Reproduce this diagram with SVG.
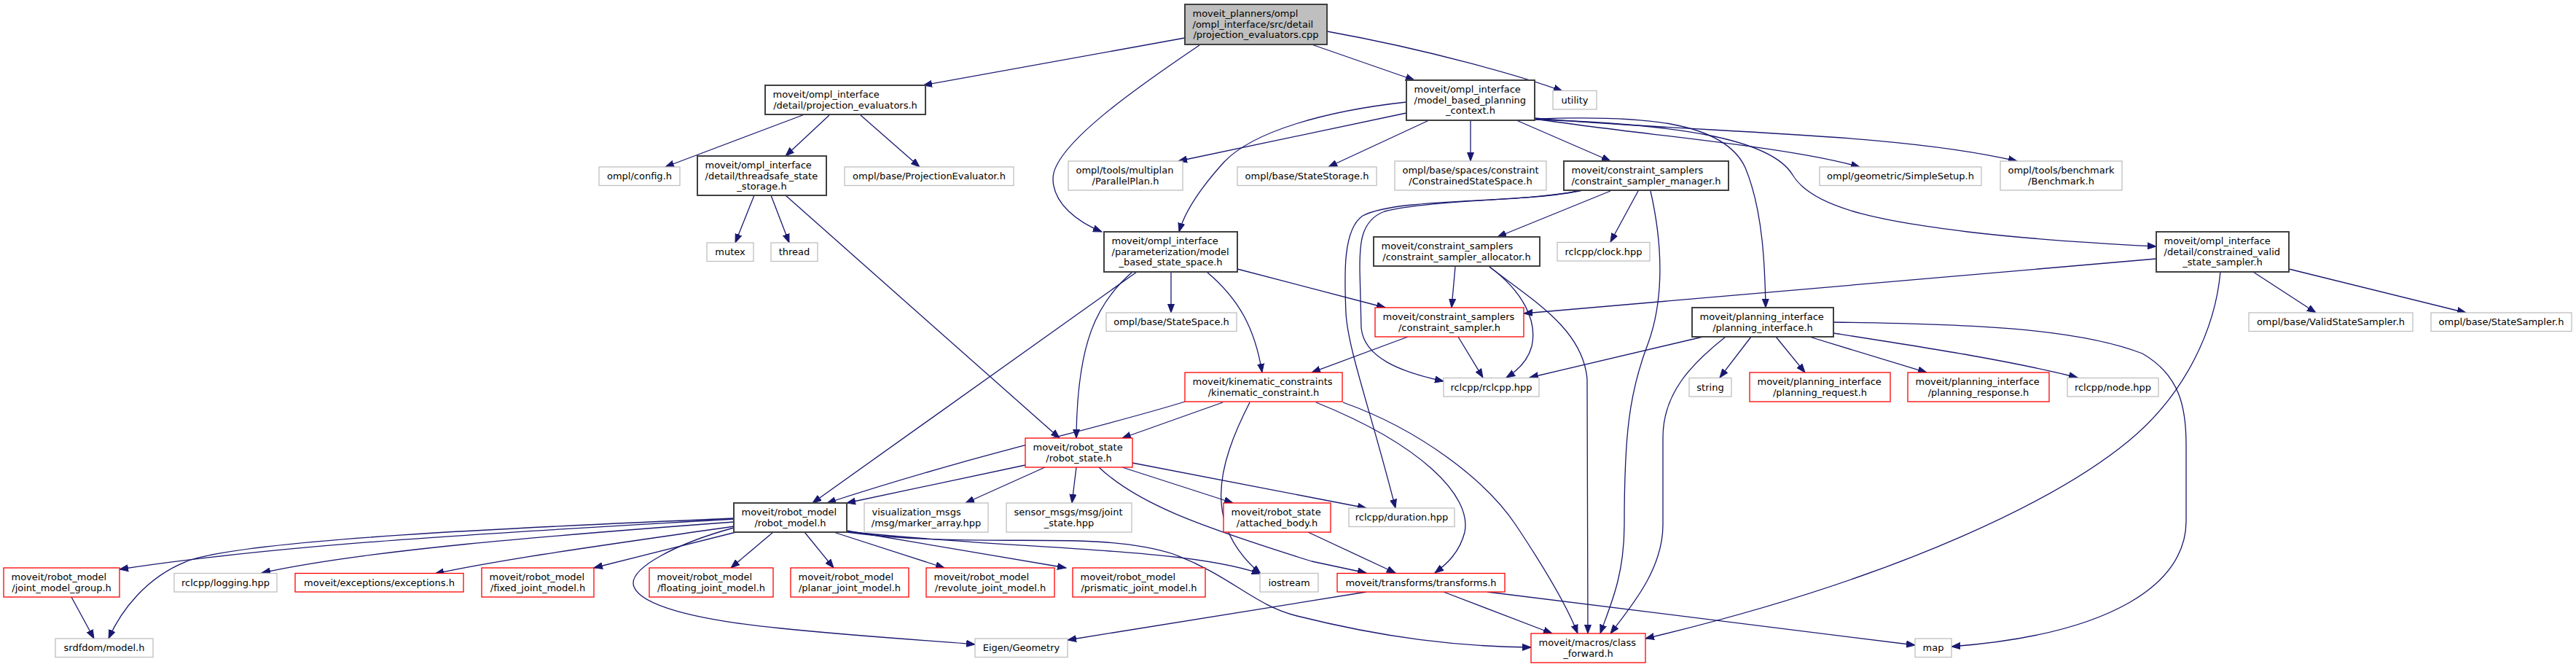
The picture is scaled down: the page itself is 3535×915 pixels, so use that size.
<svg xmlns="http://www.w3.org/2000/svg" width="3535" height="915" viewBox="0 0 3535 915">
<style>
rect{fill:#fff;stroke-width:1.3}
.n rect{stroke:#404040;stroke-width:2}
.root rect{fill:#bfbfbf;stroke:#404040;stroke-width:2}
.e rect{stroke:#bfbfbf}
.r rect{stroke:#ff0000}
text{font-family:"DejaVu Sans",sans-serif;font-size:13px;fill:#000}
.c{text-anchor:middle}
#edges path{fill:none;stroke:#191970;stroke-width:1.3;marker-end:url(#arr)}
</style>
<defs>
<marker id="arr" markerUnits="userSpaceOnUse" markerWidth="13" markerHeight="10" refX="12" refY="5" orient="auto">
<path d="M0,0.5 L12,5 L0,9.5 z" fill="#191970" stroke="#191970" stroke-width="1"/>
</marker>
</defs>
<rect x="0" y="0" width="3535" height="915" style="fill:#fff;stroke:none"/>
<g id="edges">
<path d="M1626,52 L1267,117"/>
<path d="M1646,62 C1560,120 1445,200 1445,245 C1445,280 1480,305 1512,318"/>
<path d="M1800,61 L1941,110"/>
<path d="M1821,43 C1960,68 2090,105 2144,125"/>
<path d="M1104,157 L913,229"/>
<path d="M1138,158 L1078,214"/>
<path d="M1181,158 L1262,229"/>
<path d="M1035,268 L1009,333"/>
<path d="M1058,268 L1083,333"/>
<path d="M1078,268 L1454,601"/>
<path d="M1930,155 L1617,221"/>
<path d="M1930,140 C1820,152 1720,180 1680,222 C1650,255 1626,290 1618,318"/>
<path d="M1961,165 L1823,229"/>
<path d="M2018,165 L2018,221"/>
<path d="M2081,165 L2210,221"/>
<path d="M2106,163 C2250,185 2450,200 2552,229"/>
<path d="M2106,162 C2350,183 2600,182 2768,221"/>
<path d="M2106,163 C2250,158 2365,165 2395,230 C2420,290 2422,370 2423,422"/>
<path d="M2106,164 C2300,170 2430,190 2460,240 C2490,290 2600,305 2700,318 C2800,330 2900,335 2959,338"/>
<path d="M2210,262 L2055,325"/>
<path d="M2248,262 L2210,332"/>
<path d="M2265,262 C2285,350 2280,420 2262,470 C2235,540 2229,600 2229,720 C2229,790 2210,830 2196,869"/>
<path d="M2172,261 C2100,276 1960,274 1900,290 C1865,303 1866,340 1866,370 L1868,450 C1872,490 1920,510 1981,523"/>
<path d="M2170,261 C2090,280 1920,270 1870,296 C1842,315 1845,380 1847,430 C1850,480 1880,560 1915,697"/>
<path d="M1997,366 L1992,422"/>
<path d="M2044,366 C2090,400 2110,440 2102,475 C2096,497 2080,510 2067,518"/>
<path d="M2044,366 C2100,410 2172,450 2178,520 L2179,869"/>
<path d="M1607,373 L1607,429"/>
<path d="M1698,369 L1901,422"/>
<path d="M1560,373 L1115,690"/>
<path d="M1554,373 C1505,415 1478,470 1477,601"/>
<path d="M1656,373 C1700,410 1722,450 1732,511"/>
<path d="M3092,373 L3178,429"/>
<path d="M3141,369 L3384,429"/>
<path d="M2959,355 L2091,430"/>
<path d="M3047,373 C3040,450 3000,540 2921,605 C2830,680 2620,790 2258,876"/>
<path d="M1932,462 L1800,511"/>
<path d="M2001,462 L2035,518"/>
<path d="M2337,462 L2099,518"/>
<path d="M2403,462 L2360,518"/>
<path d="M2437,462 L2477,511"/>
<path d="M2483,462 L2644,511"/>
<path d="M2516,457 C2650,478 2760,495 2851,518"/>
<path d="M2368,462 C2320,500 2282,540 2282,600 L2282,720 C2282,780 2240,830 2210,869"/>
<path d="M2516,442 C2700,444 2850,450 2940,485 C2992,515 3000,560 3000,610 L3000,715 C3000,800 2900,870 2678,887"/>
<path d="M1626,551 C1500,590 1350,620 1135,690"/>
<path d="M1678,552 L1540,601"/>
<path d="M1715,552 C1670,640 1650,720 1730,787"/>
<path d="M1806,552 C1950,610 2020,680 2010,730 C2003,758 1985,774 1969,786"/>
<path d="M1843,552 C1950,590 2040,660 2080,720 C2120,780 2150,830 2165,869"/>
<path d="M1407,638 L1162,690"/>
<path d="M1434,641 L1325,690"/>
<path d="M1477,641 L1471,690"/>
<path d="M1540,641 L1692,690"/>
<path d="M1554,635 L1875,697"/>
<path d="M1508,641 C1560,690 1640,720 1800,770 L1875,786"/>
<path d="M1795,730 L1915,786"/>
<path d="M1875,812 L1465,878"/>
<path d="M1981,812 L2130,869"/>
<path d="M2041,812 L2628,885"/>
<path d="M1061,730 L1003,779"/>
<path d="M1104,730 L1144,779"/>
<path d="M1144,730 L1296,779"/>
<path d="M1162,728 L1463,779"/>
<path d="M1162,729 C1400,755 1620,750 1730,787"/>
<path d="M1162,730 C1350,755 1500,725 1610,760 C1690,790 1720,830 1780,845 C1900,875 2000,887 2101,888"/>
<path d="M1007,724 C930,745 860,780 870,805 C880,830 950,850 1072,862 C1200,875 1300,880 1338,884"/>
<path d="M1007,712 C700,730 400,745 164,781"/>
<path d="M1007,711 C700,724 350,740 262,768 C200,790 165,840 149,876"/>
<path d="M1007,716 C750,735 500,755 359,786"/>
<path d="M1007,722 C850,745 700,765 597,787"/>
<path d="M1010,730 L815,779"/>
<path d="M98,819 L129,876"/>
</g>
<g id="n_root" class="root"><rect x="1626" y="6" width="195" height="55"/><text x="1636.5" y="23">moveit_planners/ompl</text><text x="1636.5" y="37.5">/ompl_interface/src/detail</text><text class="c" x="1723.5" y="52">/projection_evaluators.cpp</text></g>
<g id="n_proj_h" class="n"><rect x="1050" y="117" width="220" height="40"/><text x="1060.5" y="134">moveit/ompl_interface</text><text class="c" x="1160" y="148.5">/detail/projection_evaluators.h</text></g>
<g id="n_context" class="n"><rect x="1930" y="110" width="176" height="55"/><text x="1940.5" y="127">moveit/ompl_interface</text><text x="1940.5" y="141.5">/model_based_planning</text><text class="c" x="2018" y="156">_context.h</text></g>
<g id="n_utility" class="e"><rect x="2131" y="124.5" width="60" height="25.5"/><text class="c" x="2161" y="141.5">utility</text></g>
<g id="n_config" class="e"><rect x="822" y="229" width="111" height="25.5"/><text class="c" x="877.5" y="246">ompl/config.h</text></g>
<g id="n_threadsafe" class="n"><rect x="957" y="214" width="177" height="54"/><text x="967.5" y="231">moveit/ompl_interface</text><text x="967.5" y="245.5">/detail/threadsafe_state</text><text class="c" x="1045.5" y="260">_storage.h</text></g>
<g id="n_projeval" class="e"><rect x="1159" y="229" width="232" height="25.5"/><text class="c" x="1275" y="246">ompl/base/ProjectionEvaluator.h</text></g>
<g id="n_mutex" class="e"><rect x="970" y="333" width="64" height="25.5"/><text class="c" x="1002" y="350">mutex</text></g>
<g id="n_thread" class="e"><rect x="1058" y="333" width="64" height="25.5"/><text class="c" x="1090" y="350">thread</text></g>
<g id="n_parallelplan" class="e"><rect x="1466" y="221" width="157" height="40"/><text x="1476.5" y="238">ompl/tools/multiplan</text><text class="c" x="1544.5" y="252.5">/ParallelPlan.h</text></g>
<g id="n_statestorage" class="e"><rect x="1698" y="229" width="191" height="25.5"/><text class="c" x="1793.5" y="246">ompl/base/StateStorage.h</text></g>
<g id="n_css" class="e"><rect x="1914" y="221" width="208" height="40"/><text x="1924.5" y="238">ompl/base/spaces/constraint</text><text class="c" x="2018" y="252.5">/ConstrainedStateSpace.h</text></g>
<g id="n_manager" class="n"><rect x="2146" y="221" width="226" height="40"/><text x="2156.5" y="238">moveit/constraint_samplers</text><text class="c" x="2259" y="252.5">/constraint_sampler_manager.h</text></g>
<g id="n_simplesetup" class="e"><rect x="2497" y="229" width="222" height="25.5"/><text class="c" x="2608" y="246">ompl/geometric/SimpleSetup.h</text></g>
<g id="n_benchmark" class="e"><rect x="2745" y="221" width="167" height="40"/><text x="2755.5" y="238">ompl/tools/benchmark</text><text class="c" x="2828.5" y="252.5">/Benchmark.h</text></g>
<g id="n_mbss" class="n"><rect x="1515" y="318" width="183" height="55"/><text x="1525.5" y="335">moveit/ompl_interface</text><text x="1525.5" y="349.5">/parameterization/model</text><text class="c" x="1606.5" y="364">_based_state_space.h</text></g>
<g id="n_allocator" class="n"><rect x="1885" y="325" width="228" height="40"/><text x="1895.5" y="342">moveit/constraint_samplers</text><text class="c" x="1999" y="356.5">/constraint_sampler_allocator.h</text></g>
<g id="n_clock" class="e"><rect x="2137" y="332.5" width="127" height="25.5"/><text class="c" x="2200.5" y="349.5">rclcpp/clock.hpp</text></g>
<g id="n_cvss" class="n"><rect x="2959" y="318" width="182" height="55"/><text x="2969.5" y="335">moveit/ompl_interface</text><text x="2969.5" y="349.5">/detail/constrained_valid</text><text class="c" x="3050" y="364">_state_sampler.h</text></g>
<g id="n_statespace" class="e"><rect x="1518" y="429" width="179" height="25.5"/><text class="c" x="1607.5" y="446">ompl/base/StateSpace.h</text></g>
<g id="n_cs" class="r"><rect x="1887" y="422" width="204" height="40"/><text x="1897.5" y="439">moveit/constraint_samplers</text><text class="c" x="1989" y="453.5">/constraint_sampler.h</text></g>
<g id="n_pi" class="n"><rect x="2322" y="422" width="194" height="40"/><text x="2332.5" y="439">moveit/planning_interface</text><text class="c" x="2419" y="453.5">/planning_interface.h</text></g>
<g id="n_vss" class="e"><rect x="3086" y="429" width="225" height="25.5"/><text class="c" x="3198.5" y="446">ompl/base/ValidStateSampler.h</text></g>
<g id="n_ss" class="e"><rect x="3336" y="429" width="193" height="25.5"/><text class="c" x="3432.5" y="446">ompl/base/StateSampler.h</text></g>
<g id="n_kin" class="r"><rect x="1626" y="511" width="216" height="40"/><text x="1636.5" y="528">moveit/kinematic_constraints</text><text class="c" x="1734" y="542.5">/kinematic_constraint.h</text></g>
<g id="n_rclcpp" class="e"><rect x="1981" y="518.5" width="131" height="25.5"/><text class="c" x="2046.5" y="535.5">rclcpp/rclcpp.hpp</text></g>
<g id="n_string" class="e"><rect x="2318" y="518.5" width="58" height="25.5"/><text class="c" x="2347" y="535.5">string</text></g>
<g id="n_preq" class="r"><rect x="2401" y="511" width="193" height="40"/><text x="2411.5" y="528">moveit/planning_interface</text><text class="c" x="2497.5" y="542.5">/planning_request.h</text></g>
<g id="n_presp" class="r"><rect x="2618" y="511" width="194" height="40"/><text x="2628.5" y="528">moveit/planning_interface</text><text class="c" x="2715" y="542.5">/planning_response.h</text></g>
<g id="n_node" class="e"><rect x="2837" y="518.5" width="125" height="25.5"/><text class="c" x="2899.5" y="535.5">rclcpp/node.hpp</text></g>
<g id="n_rs" class="r"><rect x="1407" y="601" width="147" height="40"/><text x="1417.5" y="618">moveit/robot_state</text><text class="c" x="1480.5" y="632.5">/robot_state.h</text></g>
<g id="n_rm" class="n"><rect x="1007" y="690" width="155" height="40"/><text x="1017.5" y="707">moveit/robot_model</text><text class="c" x="1084.5" y="721.5">/robot_model.h</text></g>
<g id="n_ma" class="e"><rect x="1186" y="690" width="170" height="40"/><text x="1196.5" y="707">visualization_msgs</text><text class="c" x="1271" y="721.5">/msg/marker_array.hpp</text></g>
<g id="n_js" class="e"><rect x="1381" y="690" width="172" height="40"/><text x="1391.5" y="707">sensor_msgs/msg/joint</text><text class="c" x="1467" y="721.5">_state.hpp</text></g>
<g id="n_ab" class="r"><rect x="1679" y="690" width="147" height="40"/><text x="1689.5" y="707">moveit/robot_state</text><text class="c" x="1752.5" y="721.5">/attached_body.h</text></g>
<g id="n_dur" class="e"><rect x="1851" y="697" width="145" height="25.5"/><text class="c" x="1923.5" y="714">rclcpp/duration.hpp</text></g>
<g id="n_jmg" class="r"><rect x="5" y="779" width="159" height="40"/><text x="15.5" y="796">moveit/robot_model</text><text class="c" x="84.5" y="810.5">/joint_model_group.h</text></g>
<g id="n_log" class="e"><rect x="239" y="786.5" width="141" height="25.5"/><text class="c" x="309.5" y="803.5">rclcpp/logging.hpp</text></g>
<g id="n_exc" class="r"><rect x="405" y="786.5" width="231" height="25.5"/><text class="c" x="520.5" y="803.5">moveit/exceptions/exceptions.h</text></g>
<g id="n_fixed" class="r"><rect x="661" y="779" width="154" height="40"/><text x="671.5" y="796">moveit/robot_model</text><text class="c" x="738" y="810.5">/fixed_joint_model.h</text></g>
<g id="n_floating" class="r"><rect x="891" y="779" width="170" height="40"/><text x="901.5" y="796">moveit/robot_model</text><text class="c" x="976" y="810.5">/floating_joint_model.h</text></g>
<g id="n_planar" class="r"><rect x="1085" y="779" width="162" height="40"/><text x="1095.5" y="796">moveit/robot_model</text><text class="c" x="1166" y="810.5">/planar_joint_model.h</text></g>
<g id="n_revolute" class="r"><rect x="1271" y="779" width="176" height="40"/><text x="1281.5" y="796">moveit/robot_model</text><text class="c" x="1359" y="810.5">/revolute_joint_model.h</text></g>
<g id="n_prismatic" class="r"><rect x="1472" y="779" width="182" height="40"/><text x="1482.5" y="796">moveit/robot_model</text><text class="c" x="1563" y="810.5">/prismatic_joint_model.h</text></g>
<g id="n_iostream" class="e"><rect x="1729" y="786.5" width="80" height="25.5"/><text class="c" x="1769" y="803.5">iostream</text></g>
<g id="n_transforms" class="r"><rect x="1835" y="786.5" width="230" height="25.5"/><text class="c" x="1950" y="803.5">moveit/transforms/transforms.h</text></g>
<g id="n_srdfdom" class="e"><rect x="76" y="876" width="134" height="25.5"/><text class="c" x="143" y="893">srdfdom/model.h</text></g>
<g id="n_eigen" class="e"><rect x="1338" y="876" width="127" height="25.5"/><text class="c" x="1401.5" y="893">Eigen/Geometry</text></g>
<g id="n_cf" class="r"><rect x="2101" y="869" width="157" height="40"/><text x="2111.5" y="886">moveit/macros/class</text><text class="c" x="2179.5" y="900.5">_forward.h</text></g>
<g id="n_map" class="e"><rect x="2628" y="876" width="50" height="25.5"/><text class="c" x="2653" y="893">map</text></g>
</svg>
